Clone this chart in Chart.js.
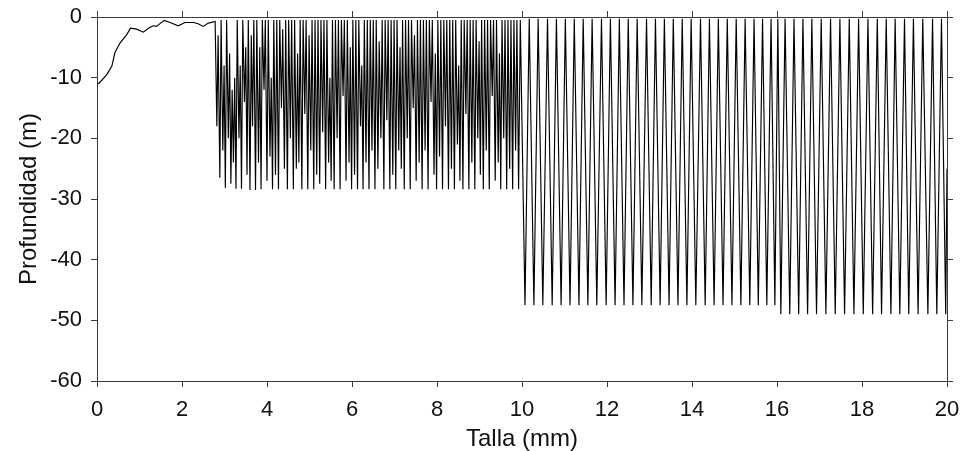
<!DOCTYPE html>
<html>
<head>
<meta charset="utf-8">
<script src="https://cdn.jsdelivr.net/npm/chart.js@4/dist/chart.umd.min.js"></script>
<style>
  html, body { margin: 0; padding: 0; background: #fff; }
  #wrap { width: 971px; height: 451px; }
</style>
</head>
<body>
<div id="wrap"><canvas id="perfil" width="971" height="451"></canvas></div>
<script>
// talla (mm), profundidad (m)
const fase1 = [
  [0, -11], [0.05, -10.9], [0.23, -9.5], [0.35, -8.1], [0.42, -5.9], [0.54, -4.3],
  [0.70, -2.9], [0.79, -1.85], [0.93, -2.0], [1.09, -2.5], [1.21, -1.85], [1.32, -1.45],
  [1.40, -1.55], [1.58, -0.55], [1.72, -0.9], [1.91, -1.45], [2.07, -0.9], [2.27, -0.9],
  [2.38, -1.1], [2.50, -1.55], [2.62, -1.0], [2.78, -0.75]
];
const fase2 = [
  [2.82, -18], [2.85, -3], [2.89, -26.5], [2.92, -0.5], [2.96, -22], [2.99, -8],
  [3.02, -28.2], [3.05, -0.5], [3.09, -20], [3.12, -6], [3.15, -27.5], [3.18, -12],
  [3.21, -24], [3.24, -10], [3.27, -28.3], [3.30, -0.5], [3.34, -20], [3.37, -8],
  [3.40, -28.3], [3.43, -0.5], [3.47, -14], [3.50, -5], [3.53, -26], [3.56, -0.5],
  [3.60, -28.5], [3.63, -3], [3.66, -18], [3.69, -0.5], [3.73, -28.5], [3.76, -0.5],
  [3.80, -24], [3.83, -5], [3.86, -28.4], [3.89, -0.5], [3.93, -12], [3.96, -0.5],
  [4.00, -27], [4.03, -0.5], [4.07, -23], [4.10, -10], [4.13, -28.4], [4.16, -0.5],
  [4.20, -26], [4.23, -0.5], [4.27, -28.4], [4.30, -0.5], [4.34, -15], [4.37, -2],
  [4.41, -25], [4.44, -0.5], [4.48, -28.4], [4.51, -0.5], [4.55, -20], [4.58, -0.5],
  [4.62, -28.4], [4.65, -0.5], [4.69, -25], [4.72, -6], [4.75, -24], [4.78, -0.5],
  [4.82, -28.4], [4.85, -0.5], [4.89, -16], [4.92, -0.5], [4.96, -28.4], [4.99, -3],
  [5.03, -22], [5.06, -0.5], [5.10, -28.4], [5.13, -0.5], [5.17, -26], [5.20, -0.5],
  [5.24, -27.5], [5.27, -0.5], [5.31, -19], [5.34, -0.5], [5.38, -28.4], [5.41, -0.5],
  [5.45, -24], [5.48, -10], [5.51, -27], [5.54, -0.5], [5.58, -28.4], [5.61, -0.5],
  [5.65, -20], [5.68, -0.5], [5.72, -28.4], [5.75, -0.5], [5.79, -13], [5.82, -0.5],
  [5.86, -27], [5.89, -0.5], [5.93, -24], [5.96, -5], [5.99, -28.4], [6.02, -0.5],
  [6.06, -26], [6.09, -0.5], [6.13, -28.4], [6.16, -0.5], [6.20, -18], [6.23, -8],
  [6.26, -28.4], [6.29, -0.5], [6.33, -24], [6.36, -0.5], [6.40, -28.4], [6.43, -0.5],
  [6.47, -22], [6.50, -0.5], [6.54, -28.4], [6.57, -0.5], [6.61, -25], [6.64, -4],
  [6.68, -20], [6.71, -0.5], [6.75, -28.4], [6.78, -0.5], [6.82, -17], [6.85, -0.5],
  [6.89, -28.4], [6.92, -0.5], [6.96, -26], [6.99, -0.5], [7.03, -28.4], [7.06, -0.5],
  [7.10, -22], [7.13, -5], [7.16, -25], [7.19, -0.5], [7.23, -28.4], [7.26, -0.5],
  [7.30, -20], [7.33, -0.5], [7.37, -28.4], [7.40, -0.5], [7.44, -15], [7.47, -3],
  [7.51, -27], [7.54, -0.5], [7.58, -24], [7.61, -0.5], [7.65, -28.4], [7.68, -0.5],
  [7.72, -22], [7.75, -0.5], [7.79, -28.4], [7.82, -0.5], [7.86, -14], [7.89, -0.5],
  [7.93, -26], [7.96, -6], [7.99, -28.4], [8.02, -0.5], [8.06, -23], [8.09, -0.5],
  [8.13, -28.4], [8.16, -0.5], [8.20, -18], [8.23, -0.5], [8.27, -28.4], [8.30, -0.5],
  [8.34, -25], [8.37, -0.5], [8.41, -28.4], [8.44, -0.5], [8.48, -21], [8.51, -8],
  [8.54, -27], [8.57, -0.5], [8.61, -28.4], [8.64, -0.5], [8.68, -16], [8.71, -0.5],
  [8.75, -28.4], [8.78, -0.5], [8.82, -24], [8.85, -0.5], [8.89, -28.4], [8.92, -0.5],
  [8.96, -20], [8.99, -4], [9.02, -26], [9.05, -0.5], [9.09, -28.4], [9.12, -0.5],
  [9.16, -22], [9.19, -0.5], [9.23, -28.4], [9.26, -0.5], [9.30, -13], [9.33, -0.5],
  [9.37, -27], [9.40, -0.5], [9.44, -24], [9.47, -6], [9.50, -28.4], [9.53, -0.5],
  [9.57, -20], [9.60, -0.5], [9.64, -28.4], [9.67, -0.5], [9.71, -25], [9.74, -0.5],
  [9.78, -28.4], [9.81, -0.5], [9.85, -22], [9.88, -0.5], [9.92, -28.4], [9.96, -0.5]
];
const fase3 = [
  [10.07, -47.5], [10.17, -0.3], [10.28, -47.5], [10.38, -0.3], [10.49, -47.5], [10.60, -0.3],
  [10.71, -47.5], [10.81, -0.3], [10.92, -47.5], [11.02, -0.3], [11.13, -47.5], [11.23, -0.3],
  [11.34, -47.5], [11.44, -0.3], [11.55, -47.5], [11.65, -0.3], [11.76, -47.5], [11.87, -0.3],
  [11.98, -47.5], [12.08, -0.3], [12.19, -47.5], [12.29, -0.3], [12.40, -47.5], [12.50, -0.3],
  [12.61, -47.5], [12.71, -0.3], [12.82, -47.5], [12.93, -0.3], [13.04, -47.5], [13.14, -0.3],
  [13.25, -47.5], [13.35, -0.3], [13.46, -47.5], [13.56, -0.3], [13.67, -47.5], [13.77, -0.3],
  [13.88, -47.5], [13.98, -0.3], [14.09, -47.5], [14.20, -0.3], [14.31, -47.5], [14.41, -0.3],
  [14.52, -47.5], [14.62, -0.3], [14.73, -47.5], [14.83, -0.3], [14.94, -47.5], [15.04, -0.3],
  [15.15, -47.5], [15.25, -0.3], [15.36, -47.5], [15.46, -0.3], [15.56, -47.5], [15.66, -0.3],
  [15.76, -47.5], [15.86, -0.3], [15.95, -47.5], [16.02, -0.3]
];
const fase4 = [
  [16.09, -49], [16.19, -0.3], [16.30, -49], [16.40, -0.3], [16.51, -49], [16.61, -0.3],
  [16.72, -49], [16.82, -0.3], [16.93, -49], [17.04, -0.3], [17.15, -49], [17.26, -0.3],
  [17.37, -49], [17.48, -0.3], [17.59, -49], [17.70, -0.3], [17.81, -49], [17.92, -0.3],
  [18.03, -49], [18.14, -0.3], [18.25, -49], [18.36, -0.3], [18.46, -49], [18.57, -0.3],
  [18.68, -49], [18.78, -0.3], [18.89, -49], [19.00, -0.3], [19.10, -49], [19.21, -0.3],
  [19.32, -49], [19.43, -0.3], [19.55, -49], [19.66, -0.3], [19.76, -49], [19.87, -0.3],
  [19.97, -49], [20.0, -25]
];
const xTicks = [0, 2, 4, 6, 8, 10, 12, 14, 16, 18, 20];
const yTicks = [0, -10, -20, -30, -40, -50, -60];

var puntos = fase1.concat(fase2, fase3, fase4).map(function (p) {
  return { x: p[0], y: p[1] };
});

var fuenteTicks = { family: "'Liberation Sans', Arial, sans-serif", size: 22 };
var fuenteTitulo = { family: "'Liberation Sans', Arial, sans-serif", size: 24 };
var ejeColor = '#3a3a3a';

function fijar(val) {
  return function (scale) { scale.ticks = val.map(function (v) { return { value: v }; }); };
}
function ancho(w) {
  return function (s) { s.width = w; s.paddingTop = 0; s.paddingBottom = 0; };
}

new Chart(document.getElementById('perfil'), {
  type: 'line',
  data: {
    datasets: [{
      data: puntos,
      borderColor: '#000',
      borderWidth: 1.15,
      pointRadius: 0,
      fill: false,
      tension: 0
    }]
  },
  options: {
    responsive: false,
    animation: false,
    devicePixelRatio: 1,
    layout: { padding: 0 },
    plugins: { legend: { display: false }, tooltip: { enabled: false } },
    scales: {
      x: {
        type: 'linear', position: 'bottom', min: 0, max: 20,
        afterBuildTicks: fijar(xTicks),
        afterFit: function (s) { s.height = 70; },
        border: { display: true, color: ejeColor, width: 1 },
        grid: { drawOnChartArea: false, drawTicks: true, tickLength: 6, color: ejeColor },
        ticks: { color: '#111', font: fuenteTicks, padding: 10, maxRotation: 0 },
        title: { display: true, text: 'Talla (mm)', color: '#111', font: fuenteTitulo, padding: { top: 0, bottom: -3 } }
      },
      xTop: {
        type: 'linear', position: 'top', min: 0, max: 20,
        afterBuildTicks: fijar(xTicks),
        afterFit: function (s) { s.height = 17; },
        border: { display: true, color: ejeColor, width: 1 },
        grid: { drawOnChartArea: false, drawTicks: true, tickLength: 6, color: ejeColor },
        ticks: { display: false }
      },
      y: {
        type: 'linear', position: 'left', min: -60, max: 0,
        afterBuildTicks: fijar(yTicks),
        afterFit: ancho(97),
        border: { display: true, color: ejeColor, width: 1 },
        grid: { drawOnChartArea: false, drawTicks: true, tickLength: 6, color: ejeColor },
        ticks: { color: '#111', font: fuenteTicks, padding: 9 },
        title: { display: true, text: 'Profundidad (m)', color: '#111', font: fuenteTitulo, padding: { top: 15, bottom: 0 } }
      },
      yRight: {
        type: 'linear', position: 'right', min: -60, max: 0,
        afterBuildTicks: fijar(yTicks),
        afterFit: ancho(24),
        border: { display: true, color: ejeColor, width: 1 },
        grid: { drawOnChartArea: false, drawTicks: true, tickLength: 6, color: ejeColor },
        ticks: { display: false }
      }
    }
  }
});
</script>
</body>
</html>
